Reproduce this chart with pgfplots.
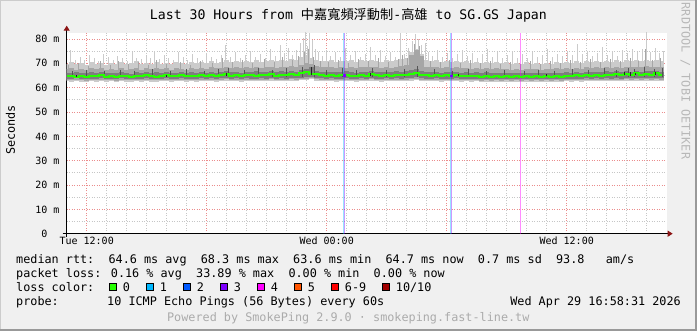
\documentclass[border=0pt]{standalone}
\usepackage{pgfplots}
\pgfplotsset{compat=1.18}
\usepackage{pgfplotstable}
\usetikzlibrary{arrows.meta}
\usepackage{fontspec}
\setmainfont{DejaVu Sans Mono}
\newfontfamily\cjk{Noto Sans CJK TC}

\definecolor{bgc}{HTML}{F0F0F0}
\definecolor{smokeL}{HTML}{CBCBCB}
\definecolor{smokeM}{HTML}{A6A6A6}
\definecolor{smokeD}{HTML}{7E7E7E}
\definecolor{smokeK}{HTML}{555555}
\definecolor{medgreen}{HTML}{26FF00}
\definecolor{loss1}{HTML}{00B8FF}
\definecolor{loss2}{HTML}{0059FF}
\definecolor{loss3}{HTML}{7E00FF}
\definecolor{loss4}{HTML}{FF00FF}
\definecolor{loss5}{HTML}{FF5500}
\definecolor{loss6}{HTML}{FF0000}
\definecolor{loss10}{HTML}{A10000}
\definecolor{arrowc}{HTML}{8C1414}
\definecolor{mgrid}{HTML}{EB8C8C}
\definecolor{ngrid}{HTML}{C6C6C6}

\pgfplotstableread{
x llo lhi mlo mhi dlo dhi med
11.00 62.6 69.8 63.1 67.6 63.7 66.2 64.6
11.25 62.4 70.4 63.0 67.9 63.6 66.0 65.0
11.50 62.7 69.6 63.2 67.3 63.8 66.4 64.5
11.75 62.5 70.1 63.0 67.8 63.6 66.1 64.8
12.00 62.3 69.4 62.9 67.2 63.5 65.9 64.3
12.25 62.6 70.6 63.2 68.0 63.7 66.3 65.0
12.50 62.5 69.9 63.1 67.5 63.6 66.0 64.6
12.75 62.8 70.3 63.3 67.9 63.9 66.5 65.1
13.00 62.4 69.5 63.0 67.1 63.6 65.9 64.5
13.25 62.6 70.2 63.1 67.7 63.7 66.2 64.8
13.50 62.3 69.8 62.9 67.4 63.5 66.0 64.3
13.75 62.7 70.5 63.2 68.1 63.8 66.4 65.0
14.00 62.5 69.7 63.0 67.3 63.6 66.1 64.6
14.25 62.4 70.0 63.0 67.8 63.6 65.8 64.5
14.50 62.6 70.8 63.2 68.2 63.7 66.3 65.0
14.75 62.5 69.6 63.1 67.4 63.6 66.0 64.6
15.00 62.7 70.2 63.2 67.9 63.8 66.4 65.1
15.25 62.5 69.9 63.1 67.5 63.7 66.1 64.8
15.50 62.4 70.7 63.0 68.1 63.6 66.5 64.5
15.75 62.6 69.8 63.1 67.6 63.7 66.0 65.0
16.00 62.8 70.3 63.3 67.9 63.9 66.3 65.3
16.25 62.5 69.7 63.0 67.3 63.6 65.9 64.6
16.50 62.6 70.4 63.1 68.0 63.7 66.2 64.8
16.75 62.7 70.1 63.2 67.7 63.8 66.4 65.1
17.00 62.5 69.6 63.0 67.4 63.6 66.0 64.6
17.25 62.6 70.5 63.1 68.0 63.7 66.3 65.0
17.50 62.5 70.0 63.1 67.6 63.6 66.1 64.8
17.75 62.8 70.7 63.3 68.2 63.9 66.5 65.3
18.00 62.6 70.2 63.1 67.8 63.7 66.2 65.0
18.25 62.8 70.9 63.3 68.3 63.9 66.6 65.4
18.50 62.5 70.3 63.1 67.9 63.6 66.2 64.8
18.75 62.7 70.6 63.2 68.1 63.8 66.4 65.1
19.00 62.9 71.2 63.4 68.4 64.0 66.7 65.6
19.25 62.6 70.4 63.1 67.9 63.7 66.3 65.0
19.50 62.7 70.9 63.2 68.3 63.8 66.5 65.3
19.75 62.5 70.5 63.1 68.0 63.6 66.2 64.8
20.00 62.8 71.1 63.3 68.4 63.9 66.6 65.4
20.25 62.6 70.6 63.2 68.1 63.7 66.3 65.1
20.50 62.6 71.3 63.1 68.5 63.7 66.7 65.0
20.75 62.8 70.7 63.3 68.2 63.9 66.4 65.4
21.00 62.6 71.0 63.2 68.3 63.7 66.5 65.1
21.25 62.9 71.5 63.4 68.6 64.0 66.8 65.6
21.50 62.6 70.8 63.1 68.2 63.7 66.4 65.0
21.75 62.8 71.4 63.3 68.7 63.9 66.7 65.4
22.00 62.6 71.0 63.2 68.4 63.7 66.5 65.1
22.25 62.9 71.8 63.4 68.9 64.0 66.9 65.6
22.50 62.7 71.3 63.2 68.6 63.8 66.6 65.3
22.75 63.0 72.5 63.5 69.5 64.1 67.2 65.9
23.00 63.2 73.0 63.7 70.2 64.3 67.8 66.3
23.25 63.4 72.2 63.9 69.8 64.5 68.3 65.8
23.50 62.9 71.5 63.4 68.8 64.0 66.9 65.6
23.75 62.7 71.0 63.2 68.5 63.8 66.6 65.3
24.00 62.6 70.8 63.1 68.3 63.7 66.4 65.0
24.25 62.7 71.2 63.2 68.5 63.8 66.6 65.3
24.50 62.5 70.7 63.1 68.1 63.6 66.3 64.8
24.75 62.6 71.1 63.2 68.4 63.7 66.5 65.1
25.00 62.8 70.9 63.3 68.2 63.9 66.7 65.4
25.25 62.6 71.4 63.1 68.6 63.7 66.4 65.0
25.50 62.5 70.6 63.1 68.0 63.6 66.2 64.8
25.75 62.7 71.2 63.2 68.5 63.8 66.6 65.3
26.00 62.6 70.9 63.1 68.3 63.7 66.4 65.0
26.25 62.9 71.5 63.4 68.7 64.0 66.8 65.6
26.50 62.6 71.0 63.2 68.4 63.7 66.5 65.1
26.75 62.5 70.7 63.1 68.1 63.6 66.3 64.8
27.00 62.7 71.3 63.2 68.5 63.8 66.6 65.3
27.25 62.6 70.8 63.1 68.2 63.7 66.4 65.0
27.50 62.8 71.2 63.3 68.6 63.9 66.7 65.4
27.75 62.6 71.6 63.2 68.8 63.7 66.5 65.1
28.00 62.8 72.0 63.3 69.2 63.9 66.8 65.4
28.25 62.9 74.5 63.4 73.5 64.0 67.2 65.8
28.50 63.1 76.0 63.6 75.5 64.2 67.5 66.1
28.75 62.8 74.0 63.3 73.0 63.9 67.0 65.4
29.00 62.6 71.3 63.2 68.6 63.7 66.6 65.1
29.25 62.6 70.9 63.1 68.3 63.7 66.4 65.0
29.50 62.7 71.2 63.2 68.5 63.8 66.6 65.3
29.75 62.5 70.6 63.0 68.0 63.6 66.2 64.8
30.00 62.6 71.0 63.2 68.3 63.7 66.5 65.1
30.25 62.6 70.5 63.1 68.1 63.7 66.3 65.0
30.50 62.7 70.9 63.2 68.4 63.8 66.6 65.3
30.75 62.4 70.4 63.0 67.9 63.6 66.2 64.6
31.00 62.6 70.8 63.1 68.2 63.7 66.4 65.0
31.25 62.4 70.3 63.0 67.8 63.6 66.1 64.6
31.50 62.6 70.7 63.1 68.1 63.7 66.4 65.0
31.75 62.4 70.2 62.9 67.7 63.5 66.0 64.5
32.00 62.5 70.6 63.1 68.0 63.6 66.3 64.8
32.25 62.4 70.1 62.9 67.6 63.5 66.0 64.5
32.50 62.5 70.5 63.1 67.9 63.6 66.2 64.8
32.75 62.3 70.0 62.9 67.5 63.5 65.9 64.3
33.00 62.5 70.4 63.0 67.8 63.6 66.1 64.6
33.25 62.4 69.9 62.9 67.4 63.5 65.9 64.5
33.50 62.5 70.3 63.1 67.7 63.6 66.2 64.8
33.75 62.3 69.8 62.9 67.3 63.5 65.9 64.3
34.00 62.5 70.4 63.0 67.8 63.6 66.1 64.6
34.25 62.4 69.9 62.9 67.5 63.5 66.0 64.5
34.50 62.5 70.2 63.1 67.7 63.6 66.2 64.8
34.75 62.3 69.7 62.9 67.3 63.5 65.9 64.3
35.00 62.5 70.3 63.0 67.8 63.6 66.1 64.6
35.25 62.4 69.9 62.9 67.5 63.5 66.0 64.5
35.50 62.5 70.4 63.1 67.9 63.6 66.2 64.8
35.75 62.4 70.0 62.9 67.6 63.5 66.0 64.5
36.00 62.6 70.6 63.1 68.0 63.7 66.3 65.0
36.25 62.5 70.2 63.0 67.7 63.6 66.1 64.6
36.50 62.6 70.8 63.2 68.2 63.7 66.5 65.1
36.75 62.5 70.3 63.1 67.8 63.6 66.2 64.8
37.00 62.7 70.9 63.2 68.3 63.8 66.6 65.3
37.25 62.6 70.4 63.1 67.9 63.7 66.3 65.0
37.50 62.7 71.0 63.3 68.4 63.8 66.6 65.4
37.75 62.6 70.5 63.1 68.0 63.7 66.4 65.0
38.00 62.8 71.1 63.3 68.4 63.9 66.7 65.4
38.25 62.6 70.6 63.2 68.1 63.7 66.4 65.1
38.50 62.8 71.2 63.3 68.5 63.9 66.8 65.6
38.75 62.6 70.7 63.2 68.2 63.7 66.5 65.1
39.00 62.9 71.3 63.4 68.6 64.0 66.9 65.8
39.25 62.7 70.9 63.2 68.3 63.8 66.6 65.3
39.50 62.9 71.4 63.4 68.7 64.0 67.0 65.9
39.75 62.7 70.8 63.2 68.3 63.8 66.6 65.3
40.00 62.9 71.5 63.4 68.8 64.0 67.0 65.8
40.25 62.7 71.0 63.3 68.4 63.8 66.7 65.4
40.50 62.9 71.3 63.4 68.6 64.0 66.9 65.9
40.75 62.7 70.9 63.2 68.3 63.8 66.6 65.3
}\smoke

\pgfplotstableread{
x lo hi
11.20 68 75.5
11.45 68 71.5
11.70 68 72.8
11.90 68 71.2
12.15 68 73.5
12.40 68 72.0
12.60 68 71.0
12.85 68 74.0
13.10 68 72.5
13.35 68 71.3
13.55 68 73.0
13.80 68 72.2
14.05 68 71.0
14.30 68 74.5
14.50 68 72.3
14.75 68 71.6
15.00 68 73.2
15.20 68 72.0
15.40 68 75.0
15.65 68 71.8
15.90 68 73.6
16.10 68 72.4
16.35 68 71.2
16.60 68 74.8
16.85 68 72.6
17.05 68 71.5
17.30 68 73.8
17.55 68 72.1
17.80 68 71.4
18.00 68 74.2
18.25 68 72.8
18.50 68 71.9
18.75 68 73.4
18.95 68 77.5
19.20 68 72.5
19.45 68 74.6
19.70 68 72.0
19.95 68 73.3
20.20 68 75.2
20.45 68 72.7
20.70 68 74.0
20.95 68 72.2
21.20 68 75.8
21.45 68 73.1
21.70 68 77.5
21.90 68 74.3
22.10 68 76.2
22.30 68 73.5
22.50 68 75.5
22.70 68 78.5
22.85 68 80.5
22.95 68 83.0
23.05 68 77.0
23.15 68 82.5
23.30 68 79.5
23.45 68 76.0
23.60 68 74.5
23.80 68 73.0
24.00 68 75.4
24.20 68 73.2
24.45 68 74.8
24.70 68 72.6
24.95 68 76.5
25.20 68 73.4
25.45 68 75.2
25.70 68 72.8
25.95 68 74.0
26.20 68 76.8
26.45 68 73.6
26.70 68 75.5
26.95 68 73.0
27.20 68 74.6
27.45 68 72.5
27.70 68 82.5
27.90 68 74.0
28.10 68 76.5
28.30 68 79.0
28.45 68 82.0
28.60 68 80.0
28.75 68 77.5
28.95 68 78.5
29.10 68 74.5
29.30 68 73.0
29.55 68 75.3
29.80 68 72.7
30.05 68 74.2
30.30 68 72.4
30.55 68 73.8
30.80 68 75.6
31.05 68 72.9
31.30 68 74.1
31.55 68 72.3
31.80 68 73.7
32.05 68 75.9
32.30 68 72.6
32.55 68 74.5
32.80 68 72.1
33.05 68 73.4
33.30 68 75.0
33.55 68 72.4
33.80 68 73.9
34.05 68 72.2
34.30 68 74.7
34.55 68 72.8
34.80 68 73.5
35.05 68 75.8
35.30 68 72.5
35.55 68 74.0
35.80 68 73.1
36.05 68 74.6
36.30 68 73.3
36.55 68 77.8
36.80 68 73.7
37.05 68 75.1
37.30 68 73.0
37.55 68 74.4
37.80 68 76.6
38.05 68 73.5
38.30 68 74.9
38.55 68 73.2
38.80 68 75.3
39.05 68 74.1
39.30 68 76.0
39.55 68 74.6
39.80 68 75.8
40.00 68 83.0
40.20 68 74.7
40.45 68 76.3
40.65 68 74.2
40.85 68 75.2
}\spikesL

\pgfplotstableread{
x lo hi
11.10 66 69.5
11.60 66 70.2
12.10 66 69.0
12.70 66 70.8
13.20 66 69.4
13.60 66 71.0
14.10 66 69.8
14.60 66 70.4
15.10 66 69.2
15.50 66 71.3
16.00 66 69.9
16.70 66 70.6
17.20 66 69.5
17.70 66 71.1
18.30 66 70.0
18.80 66 72.0
19.30 66 70.5
19.80 66 71.4
20.30 66 70.2
20.90 66 71.8
21.40 66 70.7
21.80 66 72.5
22.30 66 71.2
22.60 66 73.0
22.90 66 74.5
23.10 66 76.0
23.35 66 72.5
23.70 66 71.0
24.10 66 70.6
24.60 66 71.5
25.10 66 70.3
25.60 66 71.9
26.10 66 70.8
26.60 66 72.2
27.10 66 70.5
27.60 66 71.6
27.80 66 73.5
28.05 66 72.0
28.40 66 78.0
28.65 66 77.0
29.20 66 71.0
29.70 66 70.4
30.15 66 71.5
30.70 66 70.1
31.20 66 71.2
31.70 66 70.0
32.20 66 70.9
32.70 66 69.8
33.20 66 70.6
33.70 66 69.7
34.20 66 71.0
34.70 66 69.9
35.20 66 70.8
35.70 66 70.2
36.20 66 71.3
36.70 66 70.5
37.20 66 71.6
37.70 66 70.7
38.20 66 71.9
38.70 66 70.9
39.20 66 72.2
39.60 66 71.0
39.95 66 76.0
40.30 66 71.5
40.70 66 72.0
}\spikesM

\pgfplotstableread{
x lo hi
11.30 64.5 66.8
12.00 64.5 67.2
12.90 64.5 66.9
13.70 64.5 67.4
14.40 64.5 66.7
15.30 64.5 67.5
16.20 64.5 67.0
17.00 64.5 67.6
17.90 64.5 66.9
18.60 64.5 67.8
19.10 64.5 68.0
19.90 64.5 67.3
20.60 64.5 67.9
21.30 64.5 67.2
22.00 64.5 68.1
22.80 64.5 68.5
23.40 64.5 69.5
24.00 64.5 67.4
24.80 64.5 67.9
25.50 64.5 67.1
26.30 64.5 68.0
27.00 64.5 67.3
27.90 64.5 67.8
28.55 64.5 69.0
29.40 64.5 67.5
30.30 64.5 67.0
31.10 64.5 67.6
32.00 64.5 66.9
32.90 64.5 67.4
33.90 64.5 66.8
34.60 64.5 67.3
35.40 64.5 66.9
36.30 64.5 67.5
37.10 64.5 67.2
37.90 64.5 67.9
38.50 64.5 67.4
39.10 64.5 68.2
39.40 64.5 67.8
39.90 64.5 68.4
40.40 64.5 67.7
40.80 64.5 68.0
}\spikesD

\pgfplotstableread{
x lo hi
11.50 64.4 65.4
16.00 64.4 65.3
19.00 65.0 66.1
23.25 65.2 68.6
26.20 65.0 65.9
30.60 65.0 65.8
35.00 64.8 65.5
38.90 65.2 66.3
39.20 65.0 66.6
39.45 65.2 66.0
40.45 65.3 66.4
}\spikesK

\begin{document}
\begin{tikzpicture}
\fill[bgc] (0pt,0pt) rectangle (697pt,331pt);
\fill[black!20] (0pt,330pt) rectangle (697pt,331pt);
\fill[black!20] (0pt,0pt) rectangle (1pt,331pt);
\fill[black!40] (695pt,0pt) rectangle (697pt,331pt);
\fill[black!40] (0pt,0pt) rectangle (697pt,2pt);

\begin{axis}[
  at={(66.7pt,97.3pt)}, anchor=south west,
  scale only axis, width=600pt, height=201pt,
  xmin=11, xmax=41, ymin=0, ymax=82.6,
  axis lines=left,
  axis background/.style={fill=white},
  x axis line style={black, line width=1pt, -{Triangle[length=5pt,width=6pt,color=arrowc]}, shorten >=-6pt, shorten <=-4pt},
  y axis line style={black, line width=1pt, -{Triangle[length=5pt,width=6pt,color=arrowc]}, shorten >=-7pt, shorten <=-3pt},
  major tick length=0pt, minor tick length=0pt,
  xtick={12,18,24,30,36},
  xticklabels={Tue 12:00,,Wed 00:00,,Wed 12:00},
  minor xtick={13,14,15,16,17,19,20,21,22,23,25,26,27,28,29,31,32,33,34,35,37,38,39,40},
  ytick={0,10,20,30,40,50,60,70,80},
  yticklabels={0\hphantom{\ m},10 m,20 m,30 m,40 m,50 m,60 m,70 m,80 m},
  minor ytick={5,15,25,35,45,55,65,75},
  grid=both,
  major grid style={mgrid, line width=0.8pt, dash pattern=on 1pt off 1.5pt},
  minor grid style={ngrid, line width=0.8pt, dash pattern=on 1pt off 1.5pt},
  tick label style={font=\fontsize{10}{12}\selectfont, inner sep=0pt},
  xticklabel style={anchor=base, yshift=-11pt},
  yticklabel style={anchor=base east, xshift=-7pt, yshift=-3.65pt},
]
% light smoke columns and spikes
\addplot[forget plot, quiver={u=0, v=\thisrow{lhi}-\thisrow{llo}}, -, draw=smokeL, line width=5.2pt]
  table[x=x, y=llo]{\smoke};
\addplot[forget plot, quiver={u=0, v=\thisrow{hi}-\thisrow{lo}}, -, draw=smokeL, line width=1.2pt]
  table[x=x, y=lo]{\spikesL};
% medium smoke
\addplot[forget plot, quiver={u=0, v=\thisrow{mhi}-\thisrow{mlo}}, -, draw=smokeM, line width=5.2pt]
  table[x=x, y=mlo]{\smoke};
\addplot[forget plot, quiver={u=0, v=\thisrow{hi}-\thisrow{lo}}, -, draw=smokeM, line width=1.2pt]
  table[x=x, y=lo]{\spikesM};
% dark smoke
\addplot[forget plot, quiver={u=0, v=\thisrow{dhi}-\thisrow{dlo}}, -, draw=smokeD, line width=5.2pt]
  table[x=x, y=dlo]{\smoke};
\addplot[forget plot, quiver={u=0, v=\thisrow{hi}-\thisrow{lo}}, -, draw=smokeK, line width=1.2pt]
  table[x=x, y=lo]{\spikesD};
% loss markers
\addplot[forget plot, ycomb, draw=loss1, draw opacity=0.4, line width=1pt, mark=none] coordinates {(24.83,82.6) (30.20,82.6)};
\addplot[forget plot, ycomb, draw=loss3, draw opacity=0.4, line width=1pt, mark=none] coordinates {(24.88,82.6) (30.25,82.6)};
\addplot[forget plot, ycomb, draw=loss4, draw opacity=0.45, line width=1pt, mark=none] coordinates {(33.70,82.6)};
% median
\addplot[forget plot, medgreen, line width=2pt, const plot mark mid, mark=none] table[x=x,y=med]{\smoke};
\addplot[forget plot, quiver={u=0, v=\thisrow{hi}-\thisrow{lo}}, -, draw=black!85, line width=1.2pt]
  table[x=x, y=lo]{\spikesK};
\addplot[forget plot, only marks, mark=square*, mark size=0.8pt, loss3] coordinates {(24.86,65.1) (30.23,65.0)};
\end{axis}

% title
\node[anchor=base, inner sep=0pt, font=\fontsize{13.2}{16}\selectfont] at (348.4pt,311.5pt)
  {Last 30 Hours from {\cjk 中嘉寬頻浮動制}-{\cjk 高雄} to SG.GS Japan};
% y label
\node[anchor=base, rotate=90, inner sep=0pt, font=\fontsize{11.8}{14}\selectfont] at (15pt,201pt) {Seconds};
% watermark
\node[anchor=base, rotate=-90, inner sep=0pt, text=black!28, font=\fontsize{11.8}{14}\selectfont] at (681.7pt,250pt) {RRDTOOL / TOBI OETIKER};
% legend
\begin{scope}[every node/.style={inner sep=0pt, font=\fontsize{11.8}{14}\selectfont}]
\node[anchor=base west] at (16pt,67.7pt) {median rtt:~~64.6 ms avg~~68.3 ms max~~63.6 ms min~~64.7 ms now~~0.7 ms sd~~93.8~~~am/s};
\node[anchor=base west] at (16pt,53.7pt) {packet loss: 0.16 \% avg~~33.89 \% max~~0.00 \% min~~0.00 \% now};
\node[anchor=base west] at (16pt,39.7pt) {loss color:};
\foreach \cc/\lab/\xx in {medgreen/0/108.7, loss1/1/145.7, loss2/2/182.7, loss3/3/219.7, loss4/4/256.7, loss5/5/293.7, loss6/6-9/330.7, loss10/10\slash 10/381.7}{
  \draw[black, line width=1pt, fill=\cc] (\xx pt+0.5pt,40pt) rectangle (\xx pt+8pt,47.5pt);
  \node[anchor=base west] at (\xx pt+14pt,39.7pt) {\lab};
}
\node[anchor=base west] at (16pt,25.7pt) {probe:};
\node[anchor=base west] at (107pt,25.7pt) {10 ICMP Echo Pings (56 Bytes) every 60s};
\node[anchor=base east] at (681pt,25.7pt) {Wed Apr 29 16:58:31 2026};
\node[anchor=base, text=black!33] at (348.3pt,9.3pt) {Powered by SmokePing 2.9.0 · smokeping.fast-line.tw};
\end{scope}
\pgfresetboundingbox
\useasboundingbox (0pt,0pt) rectangle (697pt,331pt);
\end{tikzpicture}
\end{document}
